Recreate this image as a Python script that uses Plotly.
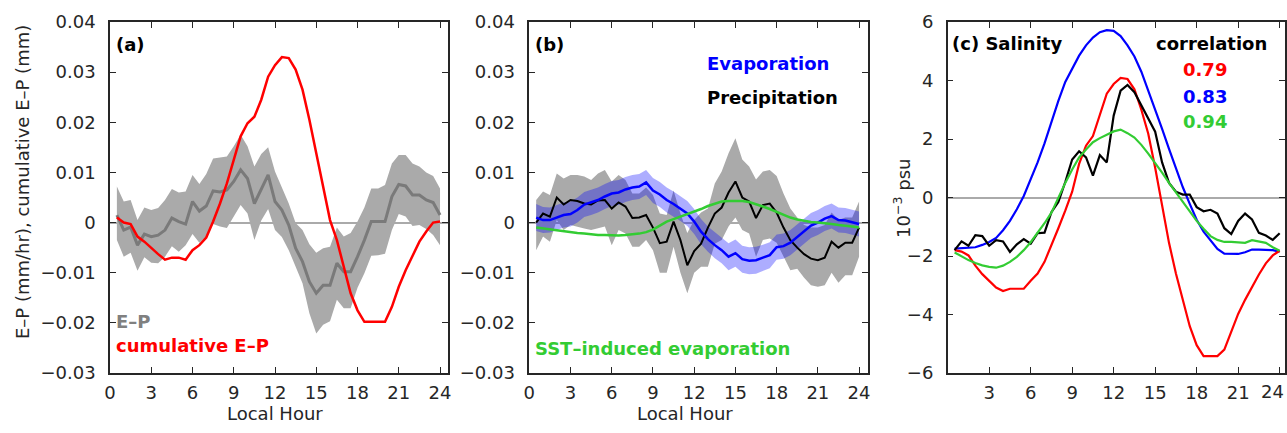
import plotly.graph_objects as go

# ---------------- data ----------------
hours = [0.5, 1.0, 1.5, 2.0, 2.5, 3.0, 3.5, 4.0, 4.5, 5.0, 5.5, 6.0,
         6.5, 7.0, 7.5, 8.0, 8.5, 9.0, 9.5, 10.0, 10.5, 11.0, 11.5, 12.0,
         12.5, 13.0, 13.5, 14.0, 14.5, 15.0, 15.5, 16.0, 16.5, 17.0, 17.5, 18.0,
         18.5, 19.0, 19.5, 20.0, 20.5, 21.0, 21.5, 22.0, 22.5, 23.0, 23.5, 24.0]

# panel (a): E-P (mm/hr) and its spread, cumulative E-P (mm)
ep_mean = [0.0015, -0.0015, -0.0009, -0.0045, -0.0023, -0.0028, -0.0025, -0.0015, 0.0009, 0.0002, -0.0003, 0.0042,
           0.0023, 0.0033, 0.0063, 0.0061, 0.0065, 0.0082, 0.0105, 0.0088, 0.0038, 0.0068, 0.0095, 0.0042,
           0.0025, -0.0005, -0.0051, -0.0078, -0.0118, -0.0141, -0.0125, -0.0125, -0.0081, -0.0098, -0.0098, -0.0068,
           -0.0035, 0.0002, 0.0002, 0.0002, 0.0052, 0.0076, 0.0073, 0.0055, 0.0055, 0.0045, 0.0040, 0.0015]
ep_upper = [0.0072, 0.0042, 0.0045, 0.0005, 0.0030, 0.0025, 0.0029, 0.0045, 0.0067, 0.0060, 0.0062, 0.0095,
            0.0077, 0.0097, 0.0128, 0.0130, 0.0132, 0.0152, 0.0175, 0.0152, 0.0112, 0.0137, 0.0150, 0.0102,
            0.0070, 0.0038, -0.0001, -0.0015, -0.0043, -0.0060, -0.0051, -0.0048, -0.0010, -0.0028, -0.0021, 0.0002,
            0.0030, 0.0068, 0.0068, 0.0075, 0.0118, 0.0135, 0.0135, 0.0118, 0.0112, 0.0100, 0.0093, 0.0068]
ep_lower = [-0.0035, -0.0068, -0.0060, -0.0096, -0.0069, -0.0080, -0.0081, -0.0068, -0.0047, -0.0058, -0.0045, -0.0023,
            -0.0040, -0.0028, -0.0003, -0.0008, -0.0011, 0.0012, 0.0035, 0.0018, -0.0035, 0.0004, 0.0027, -0.0015,
            -0.0029, -0.0055, -0.0088, -0.0121, -0.0181, -0.0221, -0.0204, -0.0197, -0.0154, -0.0171, -0.0171, -0.0130,
            -0.0101, -0.0066, -0.0065, -0.0062, -0.0015, 0.0017, 0.0012, -0.0007, -0.0005, -0.0013, -0.0025, -0.0045]
ep_cumulative = [0.0010, 0.0000, -0.0003, -0.0028, -0.0038, -0.0051, -0.0063, -0.0074, -0.0070, -0.0070, -0.0074, -0.0055,
                 -0.0045, -0.0030, 0.0002, 0.0038, 0.0078, 0.0125, 0.0172, 0.0198, 0.0211, 0.0245, 0.0291, 0.0314,
                 0.0330, 0.0328, 0.0305, 0.0265, 0.0205, 0.0138, 0.0072, 0.0005, -0.0035, -0.0088, -0.0141, -0.0175,
                 -0.0198, -0.0198, -0.0198, -0.0198, -0.0168, -0.0128, -0.0095, -0.0065, -0.0038, -0.0018, 0.0000, 0.0002]

# panel (b): precipitation, evaporation, SST-induced evaporation
precip = [0.0000, 0.0018, 0.0012, 0.0050, 0.0036, 0.0045, 0.0043, 0.0038, 0.0036, 0.0044, 0.0045, 0.0028,
          0.0040, 0.0032, 0.0009, 0.0010, 0.0015, -0.0010, -0.0041, -0.0038, 0.0002, -0.0035, -0.0085, -0.0057,
          -0.0042, -0.0010, 0.0018, 0.0030, 0.0060, 0.0082, 0.0050, 0.0042, 0.0009, 0.0035, 0.0038, 0.0020,
          -0.0010, -0.0035, -0.0050, -0.0063, -0.0072, -0.0075, -0.0070, -0.0038, -0.0050, -0.0040, -0.0040, -0.0010]
precip_upper = [0.0045, 0.0062, 0.0055, 0.0098, 0.0088, 0.0095, 0.0095, 0.0092, 0.0085, 0.0098, 0.0105, 0.0082,
                0.0095, 0.0085, 0.0058, 0.0058, 0.0070, 0.0055, 0.0018, 0.0015, 0.0064, 0.0018, -0.0021, 0.0005,
                0.0020, 0.0028, 0.0078, 0.0102, 0.0138, 0.0168, 0.0126, 0.0112, 0.0086, 0.0102, 0.0105, 0.0093,
                0.0058, 0.0028, 0.0010, -0.0005, -0.0010, -0.0010, -0.0005, 0.0020, 0.0005, 0.0010, 0.0010, 0.0042]
precip_lower = [-0.0055, -0.0028, -0.0038, 0.0005, -0.0015, -0.0005, -0.0008, -0.0012, -0.0015, -0.0012, -0.0008, -0.0045,
                -0.0015, -0.0022, -0.0048, -0.0048, -0.0035, -0.0055, -0.0100, -0.0100, -0.0048, -0.0100, -0.0141, -0.0100,
                -0.0088, -0.0088, -0.0042, -0.0035, -0.0008, 0.0010, -0.0015, -0.0022, -0.0068, -0.0035, -0.0032, -0.0040,
                -0.0068, -0.0095, -0.0092, -0.0110, -0.0125, -0.0128, -0.0125, -0.0100, -0.0120, -0.0105, -0.0105, -0.0068]
evap = [0.0010, 0.0005, 0.0005, 0.0010, 0.0015, 0.0017, 0.0025, 0.0036, 0.0040, 0.0045, 0.0052, 0.0058,
        0.0060, 0.0066, 0.0070, 0.0072, 0.0080, 0.0064, 0.0056, 0.0045, 0.0037, 0.0028, 0.0018, 0.0002,
        -0.0018, -0.0033, -0.0045, -0.0055, -0.0068, -0.0061, -0.0073, -0.0076, -0.0075, -0.0070, -0.0065, -0.0049,
        -0.0047, -0.0040, -0.0029, -0.0018, -0.0006, 0.0000, 0.0008, 0.0013, 0.0005, 0.0004, 0.0000, -0.0003]
evap_spread = [0.0027, 0.0026, 0.0025, 0.0025, 0.0025, 0.0025, 0.0025, 0.0025, 0.0025, 0.0025, 0.0025, 0.0025,
               0.0025, 0.0025, 0.0025, 0.0025, 0.0025, 0.0025, 0.0025, 0.0025, 0.0025, 0.0025, 0.0025, 0.0025,
               0.0025, 0.0025, 0.0026, 0.0026, 0.0027, 0.0027, 0.0027, 0.0027, 0.0027, 0.0026, 0.0026, 0.0025,
               0.0025, 0.0025, 0.0025, 0.0025, 0.0025, 0.0025, 0.0025, 0.0025, 0.0025, 0.0025, 0.0025, 0.0025]
sst_evap = [-0.0010, -0.0012, -0.0013, -0.0015, -0.0017, -0.0019, -0.0021, -0.0022, -0.0024, -0.0025, -0.0025, -0.0026,
            -0.0026, -0.0025, -0.0024, -0.0022, -0.0019, -0.0014, -0.0006, 0.0002, 0.0007, 0.0012, 0.0016, 0.0021,
            0.0027, 0.0033, 0.0038, 0.0042, 0.0043, 0.0043, 0.0043, 0.0041, 0.0037, 0.0032, 0.0027, 0.0021,
            0.0015, 0.0010, 0.0006, 0.0003, 0.0001, 0.0000, -0.0001, -0.0003, -0.0005, -0.0006, -0.0008, -0.0010]

# panel (c): salinity (1e-3 psu)
sal_obs = [-1.80, -1.50, -1.65, -1.29, -1.32, -1.65, -1.46, -1.50, -1.86, -1.60, -1.42, -1.58,
           -1.22, -1.20, -0.50, -0.15, 0.53, 1.30, 1.58, 1.37, 0.75, 1.45, 1.20, 2.80,
           3.65, 3.85, 3.60, 3.15, 2.65, 2.25, 1.20, 0.50, 0.20, 0.10, 0.10, -0.33,
           -0.47, -0.42, -0.55, -1.05, -1.25, -0.80, -0.55, -0.75, -1.21, -1.30, -1.45, -1.22]
sal_cum_ep = [-1.80, -1.85, -1.98, -2.33, -2.62, -2.86, -3.08, -3.20, -3.12, -3.12, -3.12, -2.85,
              -2.60, -2.20, -1.65, -1.05, -0.45, 0.20, 1.15, 1.77, 2.10, 2.80, 3.55, 3.88,
              4.09, 4.05, 3.70, 3.00, 2.18, 1.02, -0.30, -1.55, -2.60, -3.55, -4.40, -5.05,
              -5.42, -5.42, -5.42, -5.20, -4.60, -3.98, -3.50, -3.05, -2.63, -2.25, -1.98, -1.82]
sal_evap = [-1.75, -1.74, -1.73, -1.70, -1.62, -1.52, -1.38, -1.12, -0.80, -0.40, 0.05, 0.62,
            1.20, 1.85, 2.60, 3.30, 3.95, 4.38, 4.85, 5.20, 5.47, 5.65, 5.72, 5.70,
            5.52, 5.20, 4.82, 4.30, 3.66, 3.05, 2.35, 1.66, 1.00, 0.35, -0.22, -0.76,
            -1.17, -1.48, -1.76, -1.92, -1.92, -1.93, -1.87, -1.78, -1.78, -1.79, -1.80, -1.85]
sal_sst = [-1.88, -2.02, -2.14, -2.24, -2.32, -2.37, -2.40, -2.33, -2.20, -2.03, -1.80, -1.53,
           -1.22, -0.88, -0.52, 0.00, 0.50, 0.96, 1.37, 1.64, 1.89, 2.03, 2.15, 2.26,
           2.32, 2.20, 2.05, 1.80, 1.50, 1.19, 0.85, 0.50, 0.18, -0.12, -0.45, -0.80,
           -1.07, -1.32, -1.45, -1.52, -1.52, -1.53, -1.55, -1.46, -1.50, -1.55, -1.70, -1.82]
correlations = ["0.79", "0.83", "0.94"]

ep_ticks = [-0.03, -0.02, -0.01, 0, 0.01, 0.02, 0.03, 0.04]
ep_ticktext = ["\u22120.03", "\u22120.02", "\u22120.01", "0", "0.01", "0.02", "0.03", "0.04"]
sal_ticks = [-6, -4, -2, 0, 2, 4, 6]
sal_ticktext = ["\u22126", "\u22124", "\u22122", "0", "2", "4", "6"]
hour_ticks_ab = [0, 3, 6, 9, 12, 15, 18, 21, 24]
hour_ticks_c = [3, 6, 9, 12, 15, 18, 21, 24]
hour_ticktext_c = ["3", "6", "9", "12", "15", "18", "21", ""]   # "24" placed at the edge below
last_hour_label = "24"

# ---------------- styles ----------------
W, H = 1287, 433
FONT = "DejaVu Sans"
AX = "#262626"
RED = "#ff0000"
BLUE = "#0000ff"
GREEN = "#33cc33"
GRAYBAND = "#aaaaaa"
GRAYLINE = "#7a7a7a"

fig = go.Figure()

def band(x, hi, lo, color, xa, ya):
    fig.add_trace(go.Scatter(x=list(x) + list(x)[::-1], y=list(hi) + list(lo)[::-1],
                             fill="toself", fillcolor=color, line=dict(width=0),
                             mode="lines", hoverinfo="skip", showlegend=False,
                             xaxis=xa, yaxis=ya))

def line(x, y, color, width, xa, ya):
    fig.add_trace(go.Scatter(x=x, y=y, mode="lines", line=dict(color=color, width=width),
                             showlegend=False, xaxis=xa, yaxis=ya))

# panel (a)
band(hours, ep_upper, ep_lower, GRAYBAND, "x", "y")
line(hours, ep_mean, GRAYLINE, 3, "x", "y")
line(hours, ep_cumulative, RED, 2.5, "x", "y")

# panel (b)
band(hours, precip_upper, precip_lower, GRAYBAND, "x2", "y2")
evap_hi = [e + s for e, s in zip(evap, evap_spread)]
evap_lo = [e - s for e, s in zip(evap, evap_spread)]
band(hours, evap_hi, evap_lo, "rgba(0,0,255,0.32)", "x2", "y2")
line(hours, precip, "#000000", 2, "x2", "y2")
line(hours, evap, BLUE, 2.5, "x2", "y2")
line(hours, sst_evap, GREEN, 2.5, "x2", "y2")

# panel (c)
line(hours, sal_evap, BLUE, 2.2, "x3", "y3")
line(hours, sal_cum_ep, RED, 2.2, "x3", "y3")
line(hours, sal_obs, "#000000", 2.2, "x3", "y3")
line(hours, sal_sst, GREEN, 2.2, "x3", "y3")

def px2fx(px):
    return px / W

def py2fy(py):
    return 1 - py / H

ydom = [py2fy(373), py2fy(22)]

common_axis = dict(showline=True, linecolor=AX, linewidth=1.5, mirror="ticks",
                   ticks="inside", ticklen=6, tickwidth=1.2, tickcolor=AX,
                   showgrid=False, automargin=False, ticklabeloverflow="allow",
                   tickfont=dict(family=FONT, size=18, color=AX))

xa_common = dict(common_axis, zeroline=False, ticklabelstandoff=3)
ya_common = dict(common_axis, zeroline=True, zerolinecolor="#aaaaaa", zerolinewidth=1.5,
                 ticklabelstandoff=9)

fig.update_layout(
    width=W, height=H,
    margin=dict(l=0, r=0, t=0, b=0, autoexpand=False),
    paper_bgcolor="white", plot_bgcolor="white",
    font=dict(family=FONT, size=18, color=AX),
    xaxis=dict(xa_common, domain=[px2fx(110), px2fx(448)], range=[0, 24.58],
               tickvals=hour_ticks_ab, anchor="y"),
    yaxis=dict(ya_common, domain=ydom, range=[-0.03, 0.04], tickvals=ep_ticks,
               ticktext=ep_ticktext, anchor="x"),
    xaxis2=dict(xa_common, domain=[px2fx(529.3), px2fx(868)], range=[0, 24.65],
                tickvals=hour_ticks_ab, anchor="y2"),
    yaxis2=dict(ya_common, domain=ydom, range=[-0.03, 0.04], tickvals=ep_ticks,
                ticktext=ep_ticktext, anchor="x2"),
    xaxis3=dict(xa_common, domain=[px2fx(947.7), px2fx(1284.5)], range=[0, 24.35],
                tickvals=hour_ticks_c, ticktext=hour_ticktext_c, anchor="y3"),
    yaxis3=dict(ya_common, domain=ydom, range=[-6, 6], tickvals=sal_ticks,
                ticktext=sal_ticktext, anchor="x3"),
)

def note(text, x, y, xref, yref, color="#000000", xanchor="left", size=18, bold=True, angle=0):
    t = "<b>%s</b>" % text if bold else text
    fig.add_annotation(text=t, x=x, y=y, xref=xref, yref=yref, showarrow=False,
                       xanchor=xanchor, yanchor="middle", textangle=angle,
                       font=dict(family=FONT, size=size, color=color))

# panel (a) labels
note("(a)", 0.3, 0.0356, "x", "y")
note("E\u2013P", 0.3, -0.0198, "x", "y", color="#808080")
note("cumulative E\u2013P", 0.3, -0.0246, "x", "y", color=RED)
# panel (b) labels
note("(b)", 0.25, 0.0356, "x2", "y2")
note("Evaporation", 12.8, 0.0318, "x2", "y2", color=BLUE)
note("Precipitation", 12.8, 0.0249, "x2", "y2", color="#000000")
note("SST\u2013induced evaporation", 0.25, -0.0252, "x2", "y2", color=GREEN)
# panel (c) labels
note("(c) Salinity", 0.2, 5.27, "x3", "y3")
note("correlation", 19.05, 5.27, "x3", "y3", xanchor="center")
for txt, yy, col in zip(correlations, [4.38, 3.46, 2.60], [RED, BLUE, GREEN]):
    note(txt, 18.57, yy, "x3", "y3", color=col, xanchor="center")

# last tick label of panel (c), kept inside the picture edge
note(last_hour_label, px2fx(1286), py2fy(391), "paper", "paper", color=AX,
     xanchor="right", bold=False)

# axis titles
note("E\u2013P (mm/hr), cumulative E\u2013P (mm)", px2fx(22), py2fy(182), "paper", "paper",
     color=AX, xanchor="center", bold=False, angle=-90)
note("10<sup>\u22123</sup> psu", px2fx(902), py2fy(198), "paper", "paper",
     color=AX, xanchor="center", bold=False, angle=-90)
note("Local Hour", px2fx(275), py2fy(413), "paper", "paper", color=AX,
     xanchor="center", bold=False)
note("Local Hour", px2fx(685), py2fy(413), "paper", "paper", color=AX,
     xanchor="center", bold=False)

fig.write_html("out.html")
